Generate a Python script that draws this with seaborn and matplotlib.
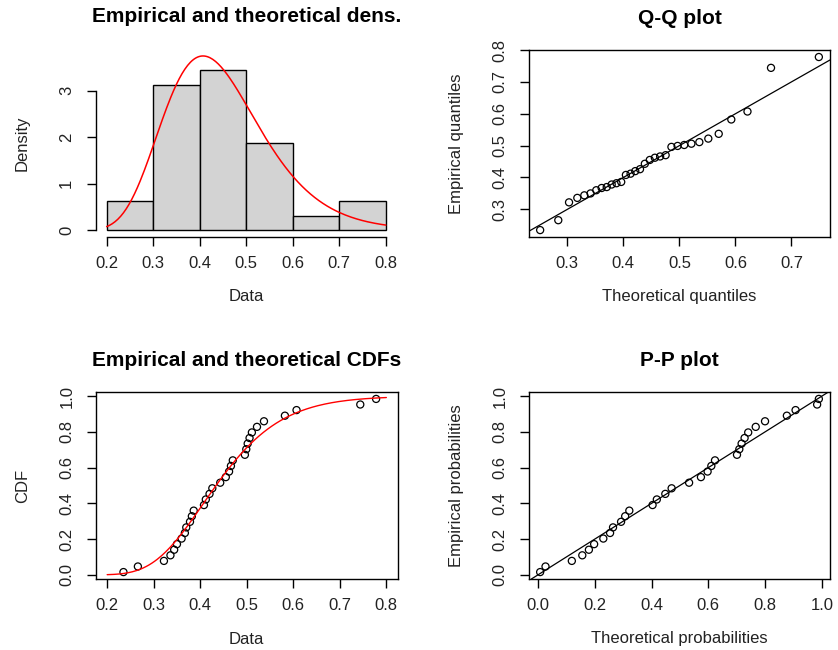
import math
from statistics import NormalDist
import numpy as np
import pandas as pd
import matplotlib
matplotlib.use("Agg")
import matplotlib.pyplot as plt
import seaborn as sns

# ---- data (sorted sample, n = 32) ----
sample = [0.235, 0.266, 0.322, 0.336, 0.344, 0.350, 0.360, 0.367,
          0.370, 0.378, 0.382, 0.386, 0.408, 0.412, 0.420, 0.426,
          0.443, 0.455, 0.462, 0.466, 0.470, 0.496, 0.499, 0.502,
          0.506, 0.511, 0.522, 0.537, 0.582, 0.607, 0.744, 0.778]
bin_edges = [0.2, 0.3, 0.4, 0.5, 0.6, 0.7, 0.8]
data_ticks = [0.2, 0.3, 0.4, 0.5, 0.6, 0.7, 0.8]
data_tick_labels = ["0.2", "0.3", "0.4", "0.5", "0.6", "0.7", "0.8"]
density_ticks = [0, 1, 2, 3]
density_tick_labels = ["0", "1", "2", "3"]
qq_x_ticks = [0.3, 0.4, 0.5, 0.6, 0.7]
qq_x_tick_labels = ["0.3", "0.4", "0.5", "0.6", "0.7"]
qq_y_ticks = [0.3, 0.4, 0.5, 0.6, 0.7, 0.8]
qq_y_tick_labels = ["0.3", "0.4", "0.5", "0.6", "0.7", "0.8"]
prob_ticks = [0.0, 0.2, 0.4, 0.6, 0.8, 1.0]
prob_tick_labels = ["0.0", "0.2", "0.4", "0.6", "0.8", "1.0"]

titles = ["Empirical and theoretical dens.", "Q-Q plot",
          "Empirical and theoretical CDFs", "P-P plot"]

# ---- lognormal fit (MLE) ----
x = np.sort(np.array(sample))
n = len(x)
logx = np.log(x)
mu = logx.mean()
sd = logx.std()
nd = NormalDist(mu, sd)
p_emp = (np.arange(1, n + 1) - 0.5) / n


def dlnorm(v):
    v = np.asarray(v)
    return np.exp(-(np.log(v) - mu) ** 2 / (2 * sd ** 2)) / (v * sd * math.sqrt(2 * math.pi))


def plnorm(v):
    return np.array([nd.cdf(math.log(t)) for t in v])


def qlnorm(p):
    return np.exp(np.array([nd.inv_cdf(pp) for pp in p]))


grid = np.linspace(bin_edges[0], bin_edges[-1], 201)
df_pts = pd.DataFrame({"data": x, "p": p_emp, "theo_q": qlnorm(p_emp), "theo_p": plnorm(x)})
df_curve = pd.DataFrame({"x": grid, "dens": dlnorm(grid), "cdf": plnorm(grid)})

# ---- styling ----
sns.set_style("ticks")
plt.rcParams["font.family"] = ["Liberation Sans", "DejaVu Sans"]

W, H = 838, 650
fig = plt.figure(figsize=(W / 100, H / 100), dpi=100)


def make_ax(l, t, r, b):
    return fig.add_axes([l / W, 1 - b / H, (r - l) / W, (b - t) / H])


def pad(lo, hi, f=0.04):
    r = hi - lo
    return lo - f * r, hi + f * r


def style(ax, title, xlabel, ylabel, xt, xtl, yt, ytl):
    ax.set_xticks(xt, labels=xtl)
    ax.set_yticks(yt, labels=ytl)
    ax.tick_params(axis="both", direction="out", length=6.5, width=1.0,
                   color="black", labelsize=12, labelcolor="#222222")
    ax.tick_params(axis="x", pad=7)
    ax.tick_params(axis="y", pad=9)
    for lab in ax.get_yticklabels():
        lab.set_rotation(90)
        lab.set_va("center")
    for s in ax.spines.values():
        s.set_linewidth(1.0)
        s.set_color("black")
    hpx = ax.get_position().height * H
    wpx = ax.get_position().width * W
    ax.set_xlabel(xlabel, fontsize=12, color="#222222", va="center")
    ax.xaxis.set_label_coords(0.5, -60 / hpx)
    ax.set_ylabel(ylabel, fontsize=12, color="#222222", va="center")
    ax.yaxis.set_label_coords(-73 / wpx, 0.5)
    ax.text(0.5, 1 + 32 / hpx, title, transform=ax.transAxes, ha="center",
            va="center", fontsize=15, fontweight="bold", color="black")
    ax.grid(False)


# Top-left: histogram + density
ax1 = make_ax(95.5, 49, 397, 237)
sns.histplot(data=df_pts, x="data", bins=bin_edges, stat="density",
             color="#D3D3D3", edgecolor="black", linewidth=1.0, alpha=1, ax=ax1)
sns.lineplot(data=df_curve, x="x", y="dens", color="red", linewidth=1.1, ax=ax1)
hist_max = np.histogram(x, bins=bin_edges, density=True)[0].max()
ymax = max(hist_max, df_curve["dens"].max())
ax1.set_xlim(*pad(bin_edges[0], bin_edges[-1]))
ax1.set_ylim(*pad(0, ymax))
style(ax1, titles[0], "Data", "Density", data_ticks, data_tick_labels,
      density_ticks, density_tick_labels)
ax1.spines["top"].set_visible(False)
ax1.spines["right"].set_visible(False)
ax1.spines["left"].set_bounds(density_ticks[0], density_ticks[-1])
ax1.spines["bottom"].set_bounds(data_ticks[0], data_ticks[-1])

marker_kw = dict(marker="o", s=26, facecolor="none", edgecolor="black", linewidth=0.9)

# Top-right: Q-Q plot
ax2 = make_ax(529, 50, 830, 237)
sns.scatterplot(data=df_pts, x="theo_q", y="data", ax=ax2, **marker_kw)
ax2.axline((0, 0), slope=1, color="black", linewidth=0.9)
ax2.set_xlim(*pad(df_pts["theo_q"].min(), df_pts["theo_q"].max()))
ax2.set_ylim(*pad(x.min(), x.max()))
style(ax2, titles[1], "Theoretical quantiles", "Empirical quantiles",
      qq_x_ticks, qq_x_tick_labels, qq_y_ticks, qq_y_tick_labels)

# Bottom-left: CDFs
ax3 = make_ax(96, 392, 397.5, 579)
sns.lineplot(data=df_curve, x="x", y="cdf", color="red", linewidth=1.0, ax=ax3)
sns.scatterplot(data=df_pts, x="data", y="p", ax=ax3, **marker_kw)
ax3.set_xlim(*pad(bin_edges[0], bin_edges[-1]))
ax3.set_ylim(*pad(p_emp.min(), p_emp.max()))
style(ax3, titles[2], "Data", "CDF", data_ticks, data_tick_labels,
      prob_ticks, prob_tick_labels)

# Bottom-right: P-P plot
ax4 = make_ax(529, 392, 830, 579)
sns.scatterplot(data=df_pts, x="theo_p", y="p", ax=ax4, **marker_kw)
ax4.axline((0, 0), slope=1, color="black", linewidth=0.9)
ax4.set_xlim(*pad(df_pts["theo_p"].min(), df_pts["theo_p"].max()))
ax4.set_ylim(*pad(p_emp.min(), p_emp.max()))
style(ax4, titles[3], "Theoretical probabilities", "Empirical probabilities",
      prob_ticks, prob_tick_labels, prob_ticks, prob_tick_labels)

fig.savefig("out.png", dpi=100, facecolor="white")
